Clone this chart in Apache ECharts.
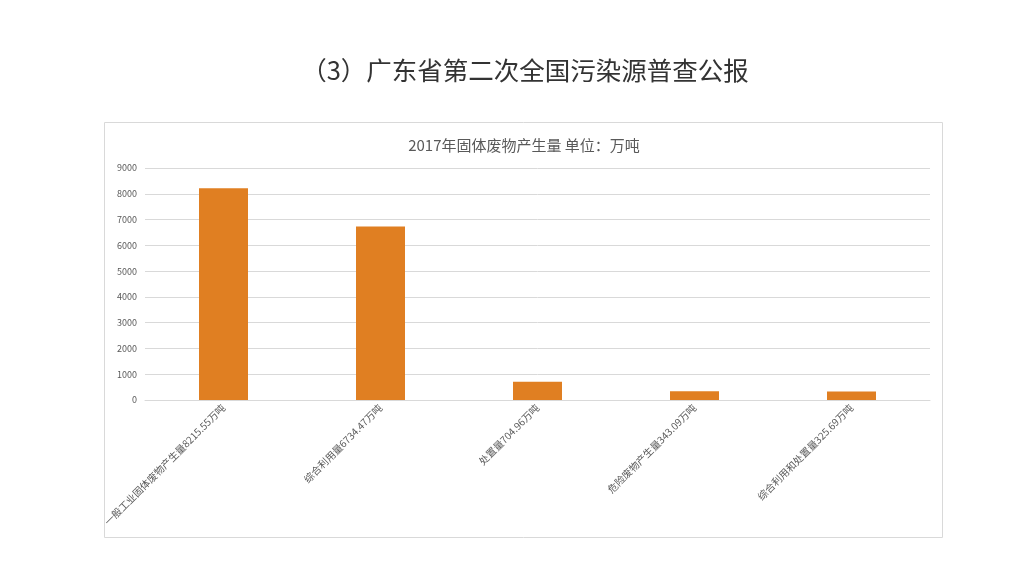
<!DOCTYPE html>
<html><head><meta charset="utf-8">
<script src="https://cdn.jsdelivr.net/npm/echarts@6/dist/echarts.min.js"></script>
<style>html,body{margin:0;padding:0;background:#fff}#c{width:1024px;height:576px}</style>
</head><body><div id="c"></div>
<script>
const categories = ["一般工业固体废物产生量8215.55万吨", "综合利用量6734.47万吨", "处置量704.96万吨", "危险废物产生量343.09万吨", "综合利用和处置量325.69万吨"];
const values = [8215.55, 6734.47, 704.96, 343.09, 325.69];
const yTicks = [0, 1000, 2000, 3000, 4000, 5000, 6000, 7000, 8000, 9000];

const chart = echarts.init(document.getElementById('c'));
const font = '"Noto Sans CJK SC", "Noto Sans", sans-serif';
chart.setOption({
  animation: false,
  textStyle: { fontFamily: font },
  graphic: [{
    type: 'rect', shape: { x: 104.5, y: 122.5, width: 838, height: 415 },
    style: { fill: 'none', stroke: '#d9d9d9', lineWidth: 1 }, z: -1
  }],
  title: [{
    text: '（3）广东省第二次全国污染源普查公报',
    left: 520, top: 53, textAlign: 'center',
    textStyle: { fontSize: 25.5, fontWeight: 'normal', color: '#333333', fontFamily: font }
  }, {
    text: '2017年固体废物产生量 单位：万吨',
    left: 519, top: 133, textAlign: 'center',
    textStyle: { fontSize: 15, fontWeight: 'normal', color: '#595959', fontFamily: font }
  }],
  grid: { left: 145, right: 94, top: 168, bottom: 176, containLabel: false },
  xAxis: {
    type: 'category', data: categories,
    axisLine: { lineStyle: { color: '#d9d9d9' } },
    axisTick: { show: false },
    axisLabel: { interval: 0, rotate: 45, fontSize: 10, color: '#595959', margin: 6 }
  },
  yAxis: {
    type: 'value', min: yTicks[0], max: yTicks[yTicks.length - 1], interval: 1000,
    axisLine: { show: false }, axisTick: { show: false },
    splitLine: { lineStyle: { color: '#d9d9d9' } },
    axisLabel: { fontSize: 9, color: '#595959', margin: 8, formatter: v => String(v) }
  },
  series: [{
    type: 'bar', data: values, barWidth: 49,
    itemStyle: { color: '#E07F22' }
  }]
});
</script></body></html>
